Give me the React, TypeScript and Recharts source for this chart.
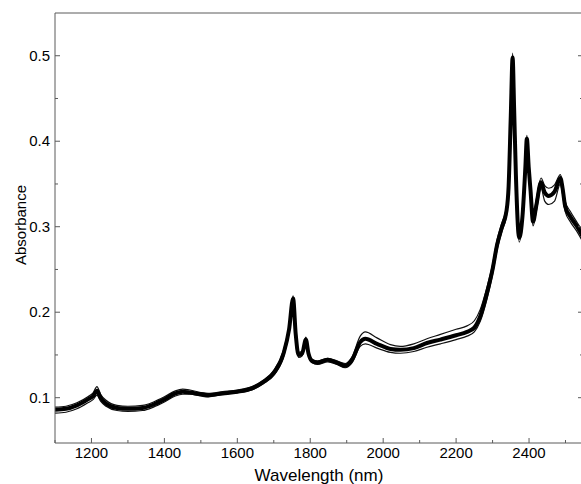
import React from "react";
import { LineChart, Line, XAxis, YAxis, Label } from "recharts";

// wavelength grid (nm) and the spectra bundle
const wavelengths = [
  1100, 1130, 1160, 1190, 1205, 1215, 1225, 1240, 1270, 1300, 1340, 1370, 1400, 1430, 1450, 1470,
  1500, 1520, 1560, 1600, 1640, 1670, 1700, 1727, 1742, 1753, 1760, 1768, 1778, 1788, 1795, 1805,
  1820, 1848, 1873, 1896, 1915, 1937, 1951, 1983, 2020, 2047, 2084, 2120, 2157, 2200, 2230, 2250,
  2266, 2285, 2300, 2312, 2326, 2338, 2344, 2350, 2355, 2359, 2364, 2373, 2382, 2390, 2394, 2399,
  2404, 2411, 2420, 2433, 2443, 2454, 2470, 2486, 2492, 2499, 2513, 2532, 2548,
];

const lowerSpectrum = [
  0.082, 0.083, 0.087, 0.094, 0.098, 0.103, 0.096, 0.09, 0.085, 0.084, 0.085, 0.089, 0.095, 0.102, 0.104, 0.104,
  0.102, 0.101, 0.104, 0.106, 0.109, 0.116, 0.126, 0.148, 0.176, 0.211, 0.171, 0.147, 0.149, 0.164, 0.149, 0.141,
  0.139, 0.142, 0.139, 0.135, 0.141, 0.16, 0.163, 0.158, 0.153, 0.152, 0.154, 0.159, 0.163, 0.168, 0.172, 0.177,
  0.189, 0.216, 0.244, 0.272, 0.295, 0.312, 0.34, 0.42, 0.485, 0.43, 0.352, 0.282, 0.307, 0.362, 0.398, 0.364,
  0.337, 0.301, 0.318, 0.345, 0.33, 0.326, 0.33, 0.35, 0.338, 0.318, 0.306, 0.294, 0.282,
];

const meanSpectrum = [
  0.086, 0.087, 0.091, 0.098, 0.102, 0.108, 0.1, 0.093, 0.088, 0.087, 0.088, 0.092, 0.098, 0.105, 0.107, 0.106,
  0.104, 0.103, 0.105, 0.107, 0.111, 0.118, 0.129, 0.152, 0.18, 0.216, 0.175, 0.15, 0.152, 0.168, 0.152, 0.143,
  0.141, 0.1445, 0.141, 0.1375, 0.1445, 0.165, 0.169, 0.163, 0.157, 0.156, 0.158, 0.164, 0.168, 0.173, 0.177, 0.182,
  0.195, 0.223, 0.25, 0.278, 0.3, 0.318, 0.347, 0.43, 0.498, 0.44, 0.36, 0.287, 0.312, 0.37, 0.403, 0.37,
  0.343, 0.306, 0.325, 0.352, 0.34, 0.336, 0.341, 0.357, 0.345, 0.324, 0.312, 0.3, 0.288,
];

const upperSpectrum = [
  0.089, 0.09, 0.094, 0.101, 0.106, 0.113, 0.104, 0.097, 0.091, 0.09, 0.091, 0.095, 0.101, 0.108, 0.11, 0.109,
  0.106, 0.105, 0.107, 0.109, 0.113, 0.12, 0.132, 0.156, 0.184, 0.219, 0.179, 0.153, 0.155, 0.171, 0.155, 0.145,
  0.143, 0.146, 0.143, 0.14, 0.148, 0.172, 0.177, 0.17, 0.162, 0.16, 0.163, 0.169, 0.174, 0.18, 0.184, 0.19,
  0.203, 0.23, 0.256, 0.284, 0.305, 0.323, 0.352, 0.44, 0.503, 0.45, 0.368, 0.292, 0.318, 0.378, 0.407, 0.376,
  0.349, 0.311, 0.332, 0.357, 0.348, 0.345, 0.349, 0.361, 0.35, 0.33, 0.318, 0.305, 0.294,
];

const xTicks = [1100, 1200, 1300, 1400, 1500, 1600, 1700, 1800, 1900, 2000, 2100, 2200, 2300, 2400, 2500];
const yTicks = [0.1, 0.15, 0.2, 0.25, 0.3, 0.35, 0.4, 0.45, 0.5];

const data = wavelengths.map((wl, i) => ({
  wl,
  lower: lowerSpectrum[i],
  mean: meanSpectrum[i],
  upper: upperSpectrum[i],
}));

const frame = "#5a5a5a";
const font = "'Liberation Sans', Arial, sans-serif";

const isMajorX = (v: number) => v % 200 === 0;
const isMajorY = (v: number) => Math.round(v * 100) % 10 === 0;

const BottomTick = (props: any) => {
  const { x, y, payload } = props;
  const major = isMajorX(payload.value);
  return (
    <g>
      <line x1={x} x2={x} y1={y} y2={y - (major ? 5 : 3)} stroke={frame} />
      {major && (
        <text x={x} y={y + 15} textAnchor="middle" fontSize={15} fontFamily={font} fill="#000">
          {payload.value}
        </text>
      )}
    </g>
  );
};

const TopTick = (props: any) => {
  const { x, y, payload } = props;
  const major = isMajorX(payload.value);
  return <line x1={x} x2={x} y1={y} y2={y + (major ? 5 : 3)} stroke={frame} />;
};

const LeftTick = (props: any) => {
  const { x, y, payload } = props;
  const major = isMajorY(payload.value);
  return (
    <g>
      <line x1={x} x2={x + (major ? 5 : 3)} y1={y} y2={y} stroke={frame} />
      {major && (
        <text x={x - 5} y={y + 5} textAnchor="end" fontSize={15} fontFamily={font} fill="#000">
          {payload.value.toFixed(1)}
        </text>
      )}
    </g>
  );
};

const RightTick = (props: any) => {
  const { x, y, payload } = props;
  const major = isMajorY(payload.value);
  return <line x1={x} x2={x - (major ? 5 : 3)} y1={y} y2={y} stroke={frame} />;
};

const App = () => {
  return (
    <div
      style={{
        position: "absolute",
        left: 0,
        top: 0,
        width: 581,
        height: 484,
        overflow: "hidden",
        background: "#fff",
      }}
    >
      <LineChart width={600} height={484} data={data} margin={{ top: 12, right: 16, bottom: 40, left: 54 }}>
        <XAxis
          dataKey="wl"
          type="number"
          domain={[1100, 2548]}
          ticks={xTicks}
          interval={0}
          height={1}
          tickSize={0}
          tickMargin={0}
          tickLine={false}
          tick={<BottomTick />}
          axisLine={{ stroke: frame }}
          allowDataOverflow
        >
          <Label
            content={(p: any) => {
              const vb = p.viewBox;
              return (
                <text x={vb.x + vb.width / 2} y={481} textAnchor="middle" fontSize={17} fontFamily={font} fill="#000">
                  Wavelength (nm)
                </text>
              );
            }}
          />
        </XAxis>
        <XAxis
          xAxisId="top"
          orientation="top"
          type="number"
          domain={[1100, 2500]}
          ticks={xTicks}
          interval={0}
          height={1}
          tickSize={0}
          tickMargin={0}
          tickLine={false}
          tick={<TopTick />}
          axisLine={{ stroke: frame }}
          allowDataOverflow
        />
        <YAxis
          type="number"
          domain={[0.047, 0.55]}
          ticks={yTicks}
          interval={0}
          width={1}
          tickSize={0}
          tickMargin={0}
          tickLine={false}
          tick={<LeftTick />}
          axisLine={{ stroke: frame }}
          allowDataOverflow
        >
          <Label
            content={(p: any) => {
              const vb = p.viewBox;
              const cx = vb.x - 34;
              const cy = vb.y + vb.height / 2 - 3;
              return (
                <text
                  x={cx}
                  y={cy}
                  transform={`rotate(-90, ${cx}, ${cy})`}
                  textAnchor="middle"
                  dominantBaseline="central"
                  fontSize={15}
                  fontFamily={font}
                  fill="#000"
                >
                  Absorbance
                </text>
              );
            }}
          />
        </YAxis>
        <YAxis
          yAxisId="right"
          orientation="right"
          type="number"
          domain={[0.047, 0.55]}
          ticks={yTicks}
          interval={0}
          width={1}
          tickSize={0}
          tickMargin={0}
          tickLine={false}
          tick={<RightTick />}
          axisLine={{ stroke: frame }}
          allowDataOverflow
        />
        <Line dataKey="lower" type="monotone" stroke="#111" strokeWidth={1.2} dot={false} isAnimationActive={false} />
        <Line dataKey="upper" type="monotone" stroke="#111" strokeWidth={1.2} dot={false} isAnimationActive={false} />
        <Line dataKey="mean" type="monotone" stroke="#000" strokeWidth={4} dot={false} isAnimationActive={false} />
      </LineChart>
    </div>
  );
};

export default App;
